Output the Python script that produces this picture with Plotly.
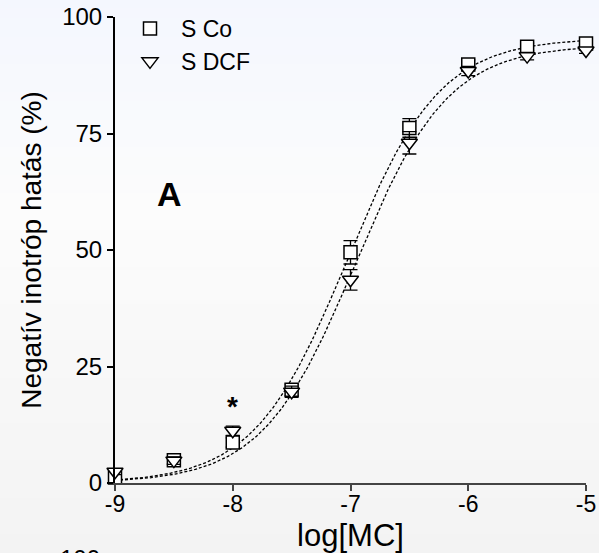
import numpy as np
import plotly.graph_objects as go

# ---- data ----
log_mc = [-9, -8.5, -8, -7.5, -7, -6.5, -6, -5.5, -5]
s_co = [1.2, 4.9, 8.7, 20.0, 49.5, 76.2, 89.8, 93.6, 94.3]
s_co_err = [0.5, 0.8, 1.0, 1.2, 2.5, 2.0, 1.0, 0.8, 0.6]
s_dcf = [2.4, 4.8, 11.2, 19.6, 43.6, 73.0, 88.4, 91.6, 92.8]
s_dcf_err = [0.6, 0.8, 1.0, 1.2, 2.2, 2.4, 1.0, 0.8, 0.6]

# fitted sigmoid (Hill) parameters: bottom, top, logEC50, hill slope
fit_co = dict(bottom=0.0, top=95.5, logec50=-7.03, hill=1.1)
fit_dcf = dict(bottom=0.0, top=94.0, logec50=-6.96, hill=1.1)

x_ticks = [-9, -8, -7, -6, -5]
y_ticks = [0, 25, 50, 75, 100]
x_label = "log[MC]"
y_label = "Negatív inotróp hatás (%)"
series_names = ["S Co", "S DCF"]


def hill(x, p):
    x = np.asarray(x)
    return p["bottom"] + (p["top"] - p["bottom"]) / (1 + 10 ** ((p["logec50"] - x) * p["hill"]))


xfit = np.linspace(-9, -5, 300)

W, H = 599, 553
ml, mr, mt, mb = 115, 13, 17, 70
pw = W - ml - mr
ph = H - mt - mb

FONT = "Liberation Sans, Arial, sans-serif"

fig = go.Figure()

# fitted curves
for p in (fit_co, fit_dcf):
    fig.add_trace(go.Scatter(x=xfit, y=hill(xfit, p), mode="lines",
                             line=dict(color="black", width=1.3, dash="3px,2px"),
                             showlegend=False, hoverinfo="skip"))

fig.add_trace(go.Scatter(
    x=log_mc, y=s_co, mode="markers", name=series_names[0],
    marker=dict(symbol="square", size=13, color="white",
                line=dict(color="black", width=1.5)),
    error_y=dict(type="data", array=s_co_err, color="black", thickness=1.3, width=7),
    cliponaxis=False, legendgroup="a"))
fig.add_trace(go.Scatter(
    x=log_mc, y=s_dcf, mode="markers", name=series_names[1],
    marker=dict(symbol="triangle-down", size=14, color="white",
                line=dict(color="black", width=1.5)),
    error_y=dict(type="data", array=s_dcf_err, color="black", thickness=1.3, width=7),
    cliponaxis=False, legendgroup="b"))

# background gradient (light blue top -> white -> light gray bottom)
stops = [(0, (244, 247, 254)), (210, (252, 252, 252)), (H, (243, 243, 243))]
shapes = []
nb = 60
for i in range(nb):
    y0p = H * i / nb
    y1p = H * (i + 1) / nb
    yc = (y0p + y1p) / 2
    for (a, ca), (b, cb) in zip(stops[:-1], stops[1:]):
        if a <= yc <= b:
            t = (yc - a) / (b - a)
            c = tuple(int(round(ca[k] + (cb[k] - ca[k]) * t)) for k in range(3))
            break
    shapes.append(dict(type="rect", xref="paper", yref="paper", layer="below",
                       x0=-ml / pw - 0.02, x1=1 + mr / pw + 0.02,
                       y0=1 - (y1p - mt) / ph - 0.001, y1=1 - (y0p - mt) / ph + 0.001,
                       fillcolor="rgb(%d,%d,%d)" % c, line=dict(width=0)))

annotations = [
    dict(x=-8.533, y=62, xref="x", yref="y", text="<b>A</b>", showarrow=False,
         font=dict(family=FONT, size=34, color="black")),
    dict(x=-8, y=16.5, xref="x", yref="y", text="<b>*</b>", showarrow=False,
         font=dict(family=FONT, size=28, color="black")),
    dict(x=(80 - ml) / pw, y=(483 - 543) / ph, xref="paper", yref="paper",
         text="100", showarrow=False, yanchor="top", xanchor="center",
         font=dict(family=FONT, size=24, color="black")),
]

fig.update_layout(
    width=W, height=H,
    margin=dict(l=ml, r=mr, t=mt, b=mb, autoexpand=False),
    paper_bgcolor="rgb(248,249,251)",
    plot_bgcolor="rgba(0,0,0,0)",
    shapes=shapes,
    annotations=annotations,
    font=dict(family=FONT, color="black"),
    showlegend=True,
    legend=dict(x=(119 - ml) / pw, y=1 + 10 / ph, xanchor="left", yanchor="top",
                bgcolor="rgba(0,0,0,0)", font=dict(family=FONT, size=23, color="black"),
                itemwidth=52, tracegroupgap=0, traceorder="grouped"),
    xaxis=dict(range=[-9, -5], tickvals=x_ticks, ticktext=[str(v) for v in x_ticks],
               automargin=False,
               showgrid=False, zeroline=False, showline=True, linecolor="#444444",
               linewidth=2, ticks="outside", ticklen=6, tickwidth=1.5, tickcolor="#444444",
               ticklabelstandoff=-7,
               tickfont=dict(family=FONT, size=23, color="black"),
               title=dict(text=x_label, font=dict(family=FONT, size=31, color="black"),
                          standoff=12)),
    yaxis=dict(range=[0, 100], tickvals=y_ticks, showgrid=False, zeroline=False,
               automargin=False,
               showline=True, linecolor="black", linewidth=2, ticks="outside", ticklen=6,
               tickwidth=1.5, tickcolor="black",
               tickfont=dict(family=FONT, size=24, color="black"),
               title=dict(text=y_label,
                          font=dict(family="Liberation Sans Narrow, Liberation Sans, Arial, sans-serif",
                                    size=28, color="black"),
                          standoff=12)),
)

fig.write_html("out.html")
